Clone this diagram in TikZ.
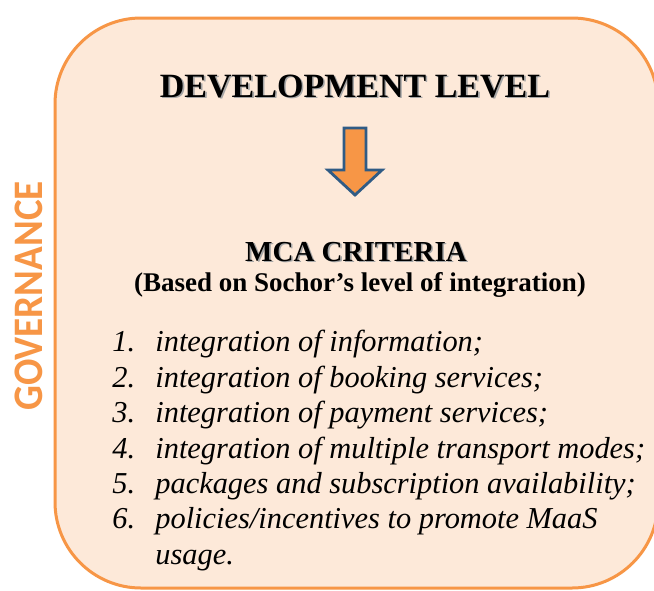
\documentclass[tikz,border=0pt]{standalone}
\usepackage{fontspec}
\setmainfont{Liberation Serif}
\newfontfamily\govfont{Carlito}
\definecolor{boxorange}{HTML}{F79646}
\definecolor{boxfill}{HTML}{FDE9D9}
\definecolor{arrowblue}{HTML}{2F5B85}
% soft shadow behind the headings
\newcommand{\shtext}[1]{\makebox[0pt][l]{\hspace{0.8pt}\raisebox{-0.8pt}{\textcolor{black!35}{#1}}}#1}

\begin{document}
\begin{tikzpicture}[
  x=0.5pt, y=-0.5pt,
  panel/.style={draw=boxorange, fill=boxfill, line width=1.5pt, rounded corners=43pt},
  head/.style={font=\bfseries\fontsize{17}{20}\selectfont, anchor=base, inner sep=0pt},
  subhead/.style={font=\bfseries\fontsize{13.5}{16}\selectfont, anchor=base, inner sep=0pt},
  crit/.style={font=\itshape\fontsize{15.2}{17.8}\selectfont, anchor=base west, inner sep=0pt},
  gov/.style={font=\govfont\bfseries\fontsize{21}{24}\selectfont, text=boxorange, rotate=90, inner sep=0pt},
  blockarr/.style={draw=arrowblue, fill=boxorange, line width=1.4pt, line join=miter}
]
\useasboundingbox (0,0) rectangle (654,590);
\fill[white] (0,0) rectangle (654,590);
\draw[panel] (55,18) rectangle (658,588);

\node[gov] (gov) at (29,296) {\scalebox{0.93}[1]{GOVERNANCE}};

\node[head] (dev) at (355,97) {\shtext{DEVELOPMENT LEVEL}};
\draw[blockarr] (344,128) -- (366,128) -- (366,170) -- (382,170) -- (355,195)
  -- (328,170) -- (344,170) -- cycle;
\node[head, font=\bfseries\fontsize{14.5}{17}\selectfont] (mca) at (356,261) {\shtext{MCA CRITERIA}};
\node[subhead] (based) at (360,291) {(Based on Sochor’s level of integration)};

\foreach \n/\t in {1/{integration of information;},
                   2/{integration of booking services;},
                   3/{integration of payment services;},
                   4/{integration of multiple transport modes;},
                   5/{packages and subscription availability;},
                   6/{policies/incentives to promote MaaS\\usage.}}
  \node[crit] (c\n) at (112,{316.5+35.4*\n})
    {\makebox[21.5pt][l]{\n.}\parbox[t]{270pt}{\raggedright\t}};
\end{tikzpicture}
\end{document}
